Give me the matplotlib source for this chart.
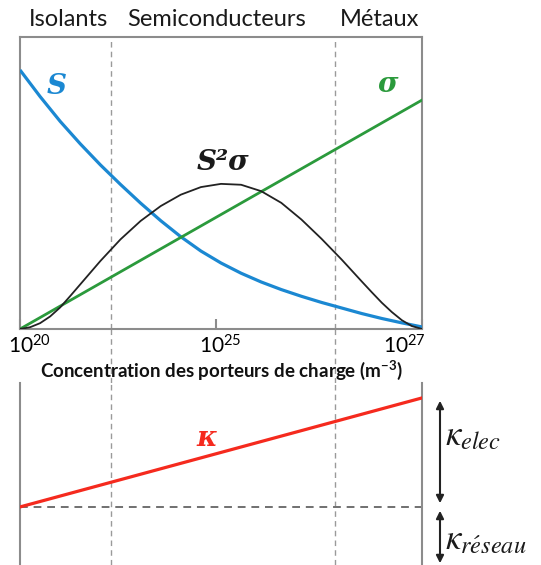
import matplotlib
matplotlib.use("Agg")
import matplotlib.pyplot as plt
from matplotlib.lines import Line2D
from matplotlib.patches import FancyArrowPatch
from matplotlib.transforms import ScaledTranslation

plt.rcParams['font.family'] = ['Lato', 'DejaVu Sans']
plt.rcParams['mathtext.fontset'] = 'custom'
plt.rcParams['mathtext.rm'] = 'Lato'
plt.rcParams['mathtext.bf'] = 'Lato:bold'
plt.rcParams['mathtext.it'] = 'Lato:italic'

# ---- data (schematic position 0..100 along the concentration axis) ----
regions = ["Isolants", "Semiconducteurs", "Métaux"]
region_centers = [12, 49, 89.5]
region_bounds = [22.6, 78.4]

tick_pos = [0, 48.8, 100]
tick_labels = [r"$\mathrm{10^{20}}$", r"$\mathrm{10^{25}}$", r"$\mathrm{10^{27}}$"]

s_x = [0, 5, 10, 15, 20, 25, 30, 35, 40, 45, 50, 55, 60, 65, 70, 75, 80, 85, 90,
       95, 100]
s_y = [0.887, 0.796, 0.711, 0.634, 0.562, 0.495, 0.431, 0.371, 0.316, 0.267,
       0.226, 0.191, 0.161, 0.135, 0.112, 0.091, 0.072, 0.053, 0.036, 0.021,
       0.007]

sigma_x = [0, 100]
sigma_y = [0.0, 0.784]

pf_x = [0, 2.5, 5, 7.5, 10, 12.5, 15, 17.5, 20, 25, 30, 35, 40, 45, 50, 55, 60,
        65, 70, 75, 80, 85, 87.5, 90, 92.5, 95, 97.5, 100]
pf_y = [0.0, 0.006, 0.020, 0.043, 0.074, 0.113, 0.153, 0.193, 0.233, 0.307,
        0.370, 0.421, 0.460, 0.486, 0.497, 0.494, 0.472, 0.432, 0.375, 0.309,
        0.238, 0.163, 0.126, 0.090, 0.058, 0.030, 0.010, 0.0]

kappa_x = [0, 100]
kappa_y = [0.319, 0.918]
kappa_lattice = 0.319

# ---- figure ----
W, H = 541, 565
fig = plt.figure(figsize=(W / 100, H / 100), dpi=100)

def fx(px):
    return px / W

def fy(py):
    return 1 - py / H

spine_col = '#8c8c8c'
dash_col = '#9a9a9a'
blue = '#1b88d2'
green = '#2b9a3c'
red = '#f52a1e'

ax1 = fig.add_axes([fx(20), fy(329), fx(422) - fx(20), fy(37) - fy(329)])
ax2 = fig.add_axes([fx(20), 0, fx(422) - fx(20), fy(383)])

for ax in (ax1, ax2):
    ax.set_xlim(0, 100)
    ax.set_ylim(0, 1)
    ax.set_yticks([])
    for b in region_bounds:
        ax.axvline(b, color=dash_col, lw=1.0, ls=(0, (4, 3)), zorder=1)

for sp in ax1.spines.values():
    sp.set_color(spine_col)
    sp.set_linewidth(1.5)

ax1.plot(s_x, s_y, color=blue, lw=2.3, solid_capstyle='butt',
         solid_joinstyle='round', zorder=3)
ax1.plot(sigma_x, sigma_y, color=green, lw=2.0, zorder=3)
ax1.plot(pf_x, pf_y, color='#222222', lw=1.3, solid_joinstyle='round', zorder=3)

ax1.set_xticks(tick_pos)
ax1.set_xticklabels(tick_labels)
ax1.tick_params(axis='x', direction='in', length=7, width=1.5, color=spine_col,
                labelsize=15, pad=4)
for lbl, dx in zip(ax1.get_xticklabels(), [9, 4, -18]):
    lbl.set_transform(lbl.get_transform() + ScaledTranslation(dx / 100, 0,
                                                             fig.dpi_scale_trans))

ax1.set_xlabel("Concentration des porteurs de charge (m$\\mathbf{^{-3}}$)",
               fontsize=13.5, fontweight='bold', labelpad=1, color='#111111')

for name, c in zip(regions, region_centers):
    ax1.text(c, 1.0 + 18 / 292, name, ha='center', va='center', fontsize=17,
             color='#1a1a1a', transform=ax1.transData, clip_on=False)

serif = ['DejaVu Serif']
fig.text(fx(57), fy(86), "S", color=blue, fontsize=20, fontweight='bold',
         fontstyle='italic', family=serif, ha='center', va='center')
fig.text(fx(388), fy(85), "σ", color=green, fontsize=20, fontweight='bold',
         fontstyle='italic', family=serif, ha='center', va='center')
fig.text(fx(223), fy(162), "S²σ", color='#1a1a1a', fontsize=20, fontweight='bold',
         fontstyle='italic', family=serif, ha='center', va='center')

# bottom panel
ax2.spines['top'].set_visible(False)
ax2.spines['bottom'].set_visible(False)
for s in ('left', 'right'):
    ax2.spines[s].set_color(spine_col)
    ax2.spines[s].set_linewidth(1.5)
ax2.set_xticks([])
ax2.axhline(kappa_lattice, color='#707070', lw=1.4, ls=(0, (4, 3)), zorder=2)
ax2.plot(kappa_x, kappa_y, color=red, lw=2.3, zorder=3)
fig.text(fx(207), fy(438), "κ", color=red, fontsize=20, fontweight='bold',
         fontstyle='italic', family=serif, ha='center', va='center')

# dashed region separators across the gap between the panels
for b in region_bounds:
    xpx = 20 + b / 100 * 402
    fig.add_artist(Line2D([fx(xpx), fx(xpx)], [fy(329), fy(383)], color=dash_col,
                          lw=1.0, ls=(0, (4, 3)), zorder=0))

# double arrows
def darrow(y0, y1):
    a = FancyArrowPatch((fx(440), fy(y0)), (fx(440), fy(y1)),
                        transform=fig.transFigure, arrowstyle='<|-|>',
                        mutation_scale=11, lw=1.5, color='#222222')
    fig.add_artist(a)

darrow(398, 506)
darrow(508, 566)

t1 = fig.text(fx(445), fy(436), r"$\kappa_{elec}$", fontsize=25, ha='left',
              va='center', color='#1a1a1a')
t2 = fig.text(fx(445), fy(540), r"$\kappa_{r\acute{e}seau}$", fontsize=25, ha='left',
              va='center', color='#1a1a1a')
for t in (t1, t2):
    t.set_math_fontfamily('stix')

fig.savefig("out.png", dpi=100)
